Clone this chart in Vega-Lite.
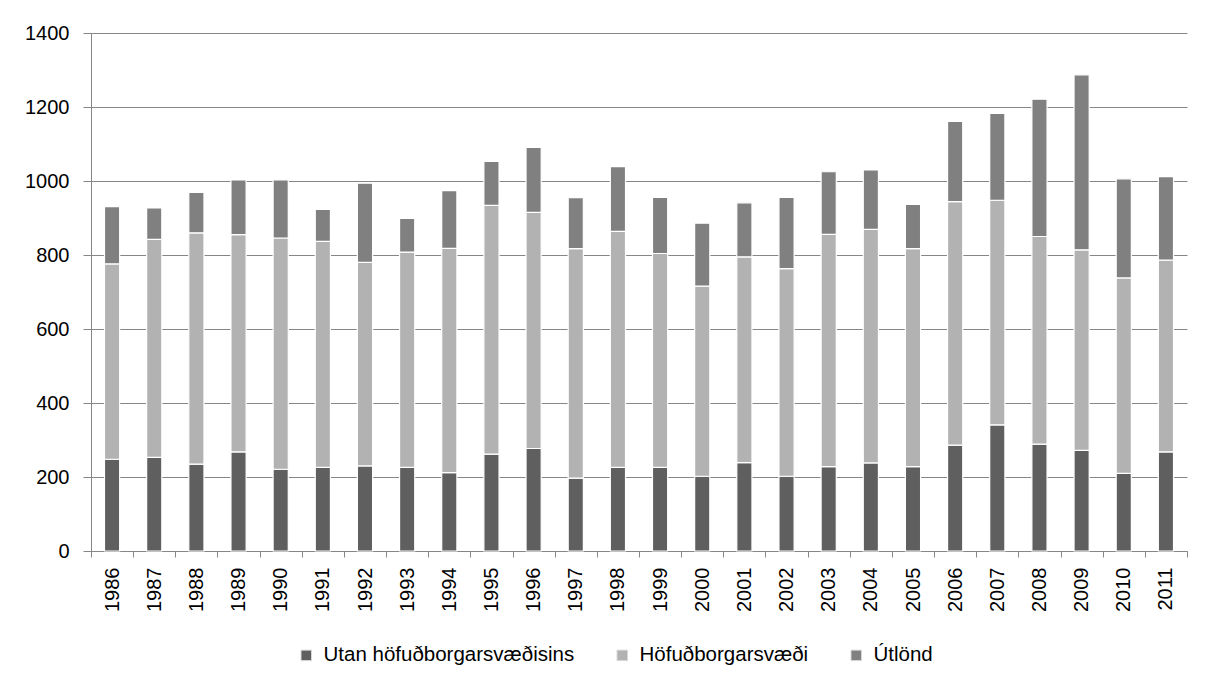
{
  "$schema": "https://vega.github.io/schema/vega-lite/v6.json",
  "width": 1096,
  "height": 518,
  "autosize": {"type": "none"},
  "padding": {"left": 91, "top": 33, "right": 23, "bottom": 135},
  "background": "white",
  "config": {
    "font": "Liberation Sans",
    "view": {"stroke": null},
    "axis": {"labelFont": "Liberation Sans", "labelColor": "#000000", "labelFontSize": 20, "domainColor": "#868686", "tickColor": "#868686", "gridColor": "#868686", "title": null}
  },
  "data": {
    "values": [
      {"year": "1986", "series": "Utan höfuðborgarsvæðisins", "o": 1, "v": 248},
      {"year": "1986", "series": "Höfuðborgarsvæði", "o": 2, "v": 528},
      {"year": "1986", "series": "Útlönd", "o": 3, "v": 155},
      {"year": "1987", "series": "Utan höfuðborgarsvæðisins", "o": 1, "v": 253},
      {"year": "1987", "series": "Höfuðborgarsvæði", "o": 2, "v": 589},
      {"year": "1987", "series": "Útlönd", "o": 3, "v": 85},
      {"year": "1988", "series": "Utan höfuðborgarsvæðisins", "o": 1, "v": 235},
      {"year": "1988", "series": "Höfuðborgarsvæði", "o": 2, "v": 625},
      {"year": "1988", "series": "Útlönd", "o": 3, "v": 109},
      {"year": "1989", "series": "Utan höfuðborgarsvæðisins", "o": 1, "v": 268},
      {"year": "1989", "series": "Höfuðborgarsvæði", "o": 2, "v": 587},
      {"year": "1989", "series": "Útlönd", "o": 3, "v": 148},
      {"year": "1990", "series": "Utan höfuðborgarsvæðisins", "o": 1, "v": 221},
      {"year": "1990", "series": "Höfuðborgarsvæði", "o": 2, "v": 625},
      {"year": "1990", "series": "Útlönd", "o": 3, "v": 157},
      {"year": "1991", "series": "Utan höfuðborgarsvæðisins", "o": 1, "v": 226},
      {"year": "1991", "series": "Höfuðborgarsvæði", "o": 2, "v": 611},
      {"year": "1991", "series": "Útlönd", "o": 3, "v": 86},
      {"year": "1992", "series": "Utan höfuðborgarsvæðisins", "o": 1, "v": 230},
      {"year": "1992", "series": "Höfuðborgarsvæði", "o": 2, "v": 550},
      {"year": "1992", "series": "Útlönd", "o": 3, "v": 214},
      {"year": "1993", "series": "Utan höfuðborgarsvæðisins", "o": 1, "v": 226},
      {"year": "1993", "series": "Höfuðborgarsvæði", "o": 2, "v": 582},
      {"year": "1993", "series": "Útlönd", "o": 3, "v": 91},
      {"year": "1994", "series": "Utan höfuðborgarsvæðisins", "o": 1, "v": 212},
      {"year": "1994", "series": "Höfuðborgarsvæði", "o": 2, "v": 606},
      {"year": "1994", "series": "Útlönd", "o": 3, "v": 156},
      {"year": "1995", "series": "Utan höfuðborgarsvæðisins", "o": 1, "v": 262},
      {"year": "1995", "series": "Höfuðborgarsvæði", "o": 2, "v": 672},
      {"year": "1995", "series": "Útlönd", "o": 3, "v": 119},
      {"year": "1996", "series": "Utan höfuðborgarsvæðisins", "o": 1, "v": 277},
      {"year": "1996", "series": "Höfuðborgarsvæði", "o": 2, "v": 638},
      {"year": "1996", "series": "Útlönd", "o": 3, "v": 176},
      {"year": "1997", "series": "Utan höfuðborgarsvæðisins", "o": 1, "v": 197},
      {"year": "1997", "series": "Höfuðborgarsvæði", "o": 2, "v": 620},
      {"year": "1997", "series": "Útlönd", "o": 3, "v": 138},
      {"year": "1998", "series": "Utan höfuðborgarsvæðisins", "o": 1, "v": 226},
      {"year": "1998", "series": "Höfuðborgarsvæði", "o": 2, "v": 638},
      {"year": "1998", "series": "Útlönd", "o": 3, "v": 175},
      {"year": "1999", "series": "Utan höfuðborgarsvæðisins", "o": 1, "v": 226},
      {"year": "1999", "series": "Höfuðborgarsvæði", "o": 2, "v": 578},
      {"year": "1999", "series": "Útlönd", "o": 3, "v": 152},
      {"year": "2000", "series": "Utan höfuðborgarsvæðisins", "o": 1, "v": 202},
      {"year": "2000", "series": "Höfuðborgarsvæði", "o": 2, "v": 514},
      {"year": "2000", "series": "Útlönd", "o": 3, "v": 170},
      {"year": "2001", "series": "Utan höfuðborgarsvæðisins", "o": 1, "v": 239},
      {"year": "2001", "series": "Höfuðborgarsvæði", "o": 2, "v": 556},
      {"year": "2001", "series": "Útlönd", "o": 3, "v": 146},
      {"year": "2002", "series": "Utan höfuðborgarsvæðisins", "o": 1, "v": 202},
      {"year": "2002", "series": "Höfuðborgarsvæði", "o": 2, "v": 561},
      {"year": "2002", "series": "Útlönd", "o": 3, "v": 193},
      {"year": "2003", "series": "Utan höfuðborgarsvæðisins", "o": 1, "v": 228},
      {"year": "2003", "series": "Höfuðborgarsvæði", "o": 2, "v": 628},
      {"year": "2003", "series": "Útlönd", "o": 3, "v": 169},
      {"year": "2004", "series": "Utan höfuðborgarsvæðisins", "o": 1, "v": 238},
      {"year": "2004", "series": "Höfuðborgarsvæði", "o": 2, "v": 631},
      {"year": "2004", "series": "Útlönd", "o": 3, "v": 161},
      {"year": "2005", "series": "Utan höfuðborgarsvæðisins", "o": 1, "v": 228},
      {"year": "2005", "series": "Höfuðborgarsvæði", "o": 2, "v": 589},
      {"year": "2005", "series": "Útlönd", "o": 3, "v": 120},
      {"year": "2006", "series": "Utan höfuðborgarsvæðisins", "o": 1, "v": 286},
      {"year": "2006", "series": "Höfuðborgarsvæði", "o": 2, "v": 658},
      {"year": "2006", "series": "Útlönd", "o": 3, "v": 217},
      {"year": "2007", "series": "Utan höfuðborgarsvæðisins", "o": 1, "v": 341},
      {"year": "2007", "series": "Höfuðborgarsvæði", "o": 2, "v": 607},
      {"year": "2007", "series": "Útlönd", "o": 3, "v": 235},
      {"year": "2008", "series": "Utan höfuðborgarsvæðisins", "o": 1, "v": 289},
      {"year": "2008", "series": "Höfuðborgarsvæði", "o": 2, "v": 561},
      {"year": "2008", "series": "Útlönd", "o": 3, "v": 371},
      {"year": "2009", "series": "Utan höfuðborgarsvæðisins", "o": 1, "v": 272},
      {"year": "2009", "series": "Höfuðborgarsvæði", "o": 2, "v": 542},
      {"year": "2009", "series": "Útlönd", "o": 3, "v": 473},
      {"year": "2010", "series": "Utan höfuðborgarsvæðisins", "o": 1, "v": 210},
      {"year": "2010", "series": "Höfuðborgarsvæði", "o": 2, "v": 528},
      {"year": "2010", "series": "Útlönd", "o": 3, "v": 268},
      {"year": "2011", "series": "Utan höfuðborgarsvæðisins", "o": 1, "v": 268},
      {"year": "2011", "series": "Höfuðborgarsvæði", "o": 2, "v": 518},
      {"year": "2011", "series": "Útlönd", "o": 3, "v": 226}
    ]
  },
  "mark": {"type": "bar", "width": {"band": 0.36}, "stroke": "white", "strokeWidth": 1.2},
  "encoding": {
    "x": {
      "field": "year", "type": "nominal", "sort": null,
      "scale": {"paddingInner": 0, "paddingOuter": 0},
      "axis": {"labelAngle": 270, "labelAlign": "right", "labelBaseline": "middle", "labelPadding": 10, "tickSize": 6, "tickBand": "extent", "domainWidth": 1, "tickWidth": 1}
    },
    "y": {
      "field": "v", "type": "quantitative", "stack": "zero",
      "scale": {"domain": [0, 1400], "nice": false},
      "axis": {"values": [0, 200, 400, 600, 800, 1000, 1200, 1400], "format": "d", "grid": true, "gridWidth": 1, "tickSize": 8, "labelPadding": 14, "domain": true}
    },
    "color": {
      "field": "series", "type": "nominal",
      "scale": {"domain": ["Utan höfuðborgarsvæðisins", "Höfuðborgarsvæði", "Útlönd"], "range": ["#5f5f5f", "#b2b2b2", "#808080"]},
      "legend": {"title": null, "orient": "none", "direction": "horizontal", "legendX": 205, "legendY": 612, "symbolType": "square", "symbolSize": 110, "symbolStrokeColor": "#d8d8d8", "symbolStrokeWidth": 1, "labelFontSize": 20.5, "labelFont": "Liberation Sans", "labelColor": "#000000", "labelOffset": 7, "labelLimit": 0, "columnPadding": 37}
    },
    "order": {"field": "o", "type": "quantitative"}
  }
}
